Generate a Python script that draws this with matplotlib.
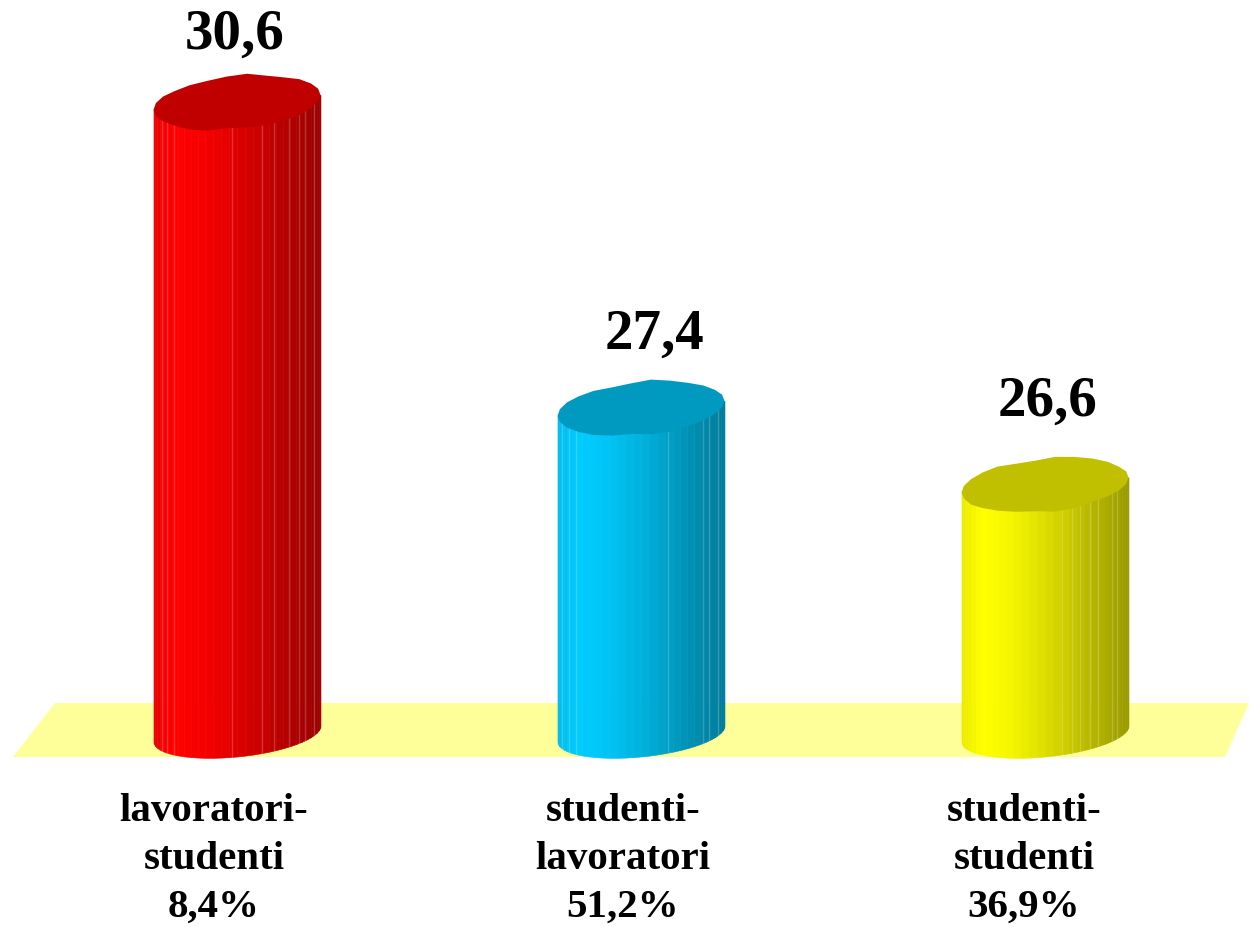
import numpy as np
import matplotlib
matplotlib.use('Agg')
import matplotlib.pyplot as plt
from matplotlib.colors import to_rgb

categories = ['lavoratori-\nstudenti\n8,4%', 'studenti-\nlavoratori\n51,2%', 'studenti-\nstudenti\n36,9%']
values = [30.6, 27.4, 26.6]
value_labels = ['30,6', '27,4', '26,6']
colors = ['#FF0000', '#00CCFF', '#FFFF00']
top_colors = ['#C00000', '#009AC0', '#C0C000']
# where the thin light lines sit on each cylinder (0=left edge, 1=right edge)
light_lines = [[0.05, 0.08, 0.12, 0.47, 0.65, 0.72, 0.81, 0.87, 0.91, 0.96],
               [0.03, 0.07, 0.11, 0.66, 0.87, 0.91, 0.96],
               [0.60, 0.66, 0.71, 0.77, 0.82, 0.90, 0.93]]

BASE = 24.0
HALF_W = 0.2067
TOP_B = 26.5/95.6
TOP_SHEAR = 7.5/95.6
BOT_B = 23/95.6
BOT_SHEAR = 8/95.6
FLOOR_COLOR = '#FFFF99'

plt.rcParams['font.family'] = ['Liberation Serif', 'DejaVu Serif']
fig = plt.figure(figsize=(12.49, 9.27), dpi=100)
ax = fig.add_axes([0, 0, 1, 1])
ax.set_xlim(-0.5866, 2.5050)
ax.set_ylim(21.976, 31.672)
ax.axis('off')

# floor, in axes fractions
floor_x = np.array([13, 55, 1249, 1225])/1249
floor_y = 1-np.array([757, 703, 703, 757])/927
ax.fill(floor_x, floor_y, color=FLOOR_COLOR, lw=0, transform=ax.transAxes, zorder=1)

def shade(frac):
    return np.interp(frac, [0, 0.13, 0.3, 0.5, 0.75, 1], [0.92, 1, 0.96, 0.87, 0.73, 0.60])

def drawCylinder(i, value):
    rgb = np.array(to_rgb(colors[i]))
    edges = (1-np.cos(np.linspace(0, np.pi, 33)))/2
    for j in range(len(edges)-1):
        f = np.linspace(edges[j], edges[j+1], 4)
        c = 2*f-1
        bottom = BASE+BOT_SHEAR*c-BOT_B*np.sqrt(1-c**2)
        top = value+TOP_SHEAR*c
        col = rgb*shade((edges[j]+edges[j+1])/2)
        ax.fill_between(i+c*HALF_W, bottom, top, color=col, lw=0.4, zorder=2)
    for f in light_lines[i]:
        c = 2*f-1
        bottom = BASE+BOT_SHEAR*c-BOT_B*np.sqrt(1-c**2)
        ax.plot([i+c*HALF_W]*2, [bottom, value+TOP_SHEAR*c], color='white', alpha=0.2, lw=1, zorder=3)
    # lumpy top, the source has a rough polygon outline
    t = np.linspace(0, 2*np.pi, 27)
    wob = 1+0.04*np.sin(5*t+i)+0.025*np.sin(9*t+1)
    c = np.cos(t)
    ax.fill(i+HALF_W*c, value+TOP_SHEAR*c+TOP_B*np.sin(t)*wob, color=top_colors[i], lw=0, zorder=4)

for i in range(len(values)):
    drawCylinder(i, values[i])

label_dx = [-2, 13, 3]
label_dy = [54, 60, 69]
for i in range(len(values)):
    ax.annotate(value_labels[i], (i, values[i]), xytext=(label_dx[i]*0.72, label_dy[i]*0.72),
                textcoords='offset points', ha='center', va='baseline', fontsize=41, fontweight='bold', color='black', zorder=5)

cat_dx = [-23, -18, -21]
for i in range(len(categories)):
    ax.annotate(categories[i], (i, BASE), xytext=(cat_dx[i]*0.72, -60*0.72),
                textcoords='offset points', ha='center', va='top', fontsize=29.5, fontweight='bold',
                color='black', linespacing=1.38, zorder=5)

fig.savefig('out.png', dpi=100)
